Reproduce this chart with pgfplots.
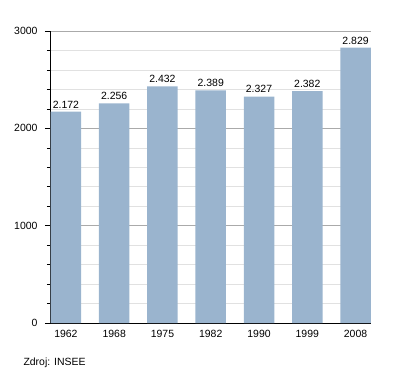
\documentclass[border=0pt]{standalone}
\usepackage{fontspec}
\setmainfont{Liberation Sans}
\usepackage{pgfplots}
\pgfplotsset{compat=1.18}
\definecolor{barblue}{RGB}{154,180,206}
\definecolor{majgrid}{RGB}{170,170,170}
\definecolor{mingrid}{RGB}{225,225,225}
\begin{document}
\begin{tikzpicture}
\begin{axis}[
  scale only axis,
  width=321bp, height=292bp,
  ymin=0, ymax=3000,
  xmin=-0.33, xmax=6.32,
  ytick={0,1000,2000,3000},
  minor y tick num=4,
  ymajorgrids, yminorgrids,
  major grid style={majgrid, line width=0.6pt},
  minor grid style={mingrid, line width=0.6pt},
  xtick=data,
  xticklabels={1962,1968,1975,1982,1990,1999,2008},
  axis x line*=bottom,
  axis y line*=left,
  axis line style={black, line width=0.8pt, -},
  major tick length=5bp,
  minor tick length=3bp,
  tick style={black, line width=0.6pt},
  xtick style={draw=none},
  ytick pos=left,
  tick align=outside,
  /pgf/number format/assume math mode=true,
  /pgf/number format/1000 sep={},
  tick label style={font=\fontsize{10.5}{12}\selectfont, black},
  xticklabel style={yshift=1bp},
  yticklabel style={xshift=-4bp},
  nodes near coords,
  every node near coord/.append style={font=\fontsize{10.5}{12}\selectfont, black, /pgf/number format/1000 sep={.}, yshift=0bp},
  ybar, bar width=30.5bp,
  clip=false,
]
\addplot[fill=barblue, draw=none] coordinates {
(0,2172) (1,2256) (2,2432) (3,2389) (4,2327) (5,2382) (6,2829)};
\end{axis}
\node[anchor=west, font=\fontsize{10.5}{12}\selectfont] at ([xshift=-30bp,yshift=-40bp]current axis.south west) {Zdroj: INSEE};
\path ([xshift=-50bp,yshift=-50bp]current axis.south west) rectangle ++(400bp,373bp);
\end{tikzpicture}
\end{document}
